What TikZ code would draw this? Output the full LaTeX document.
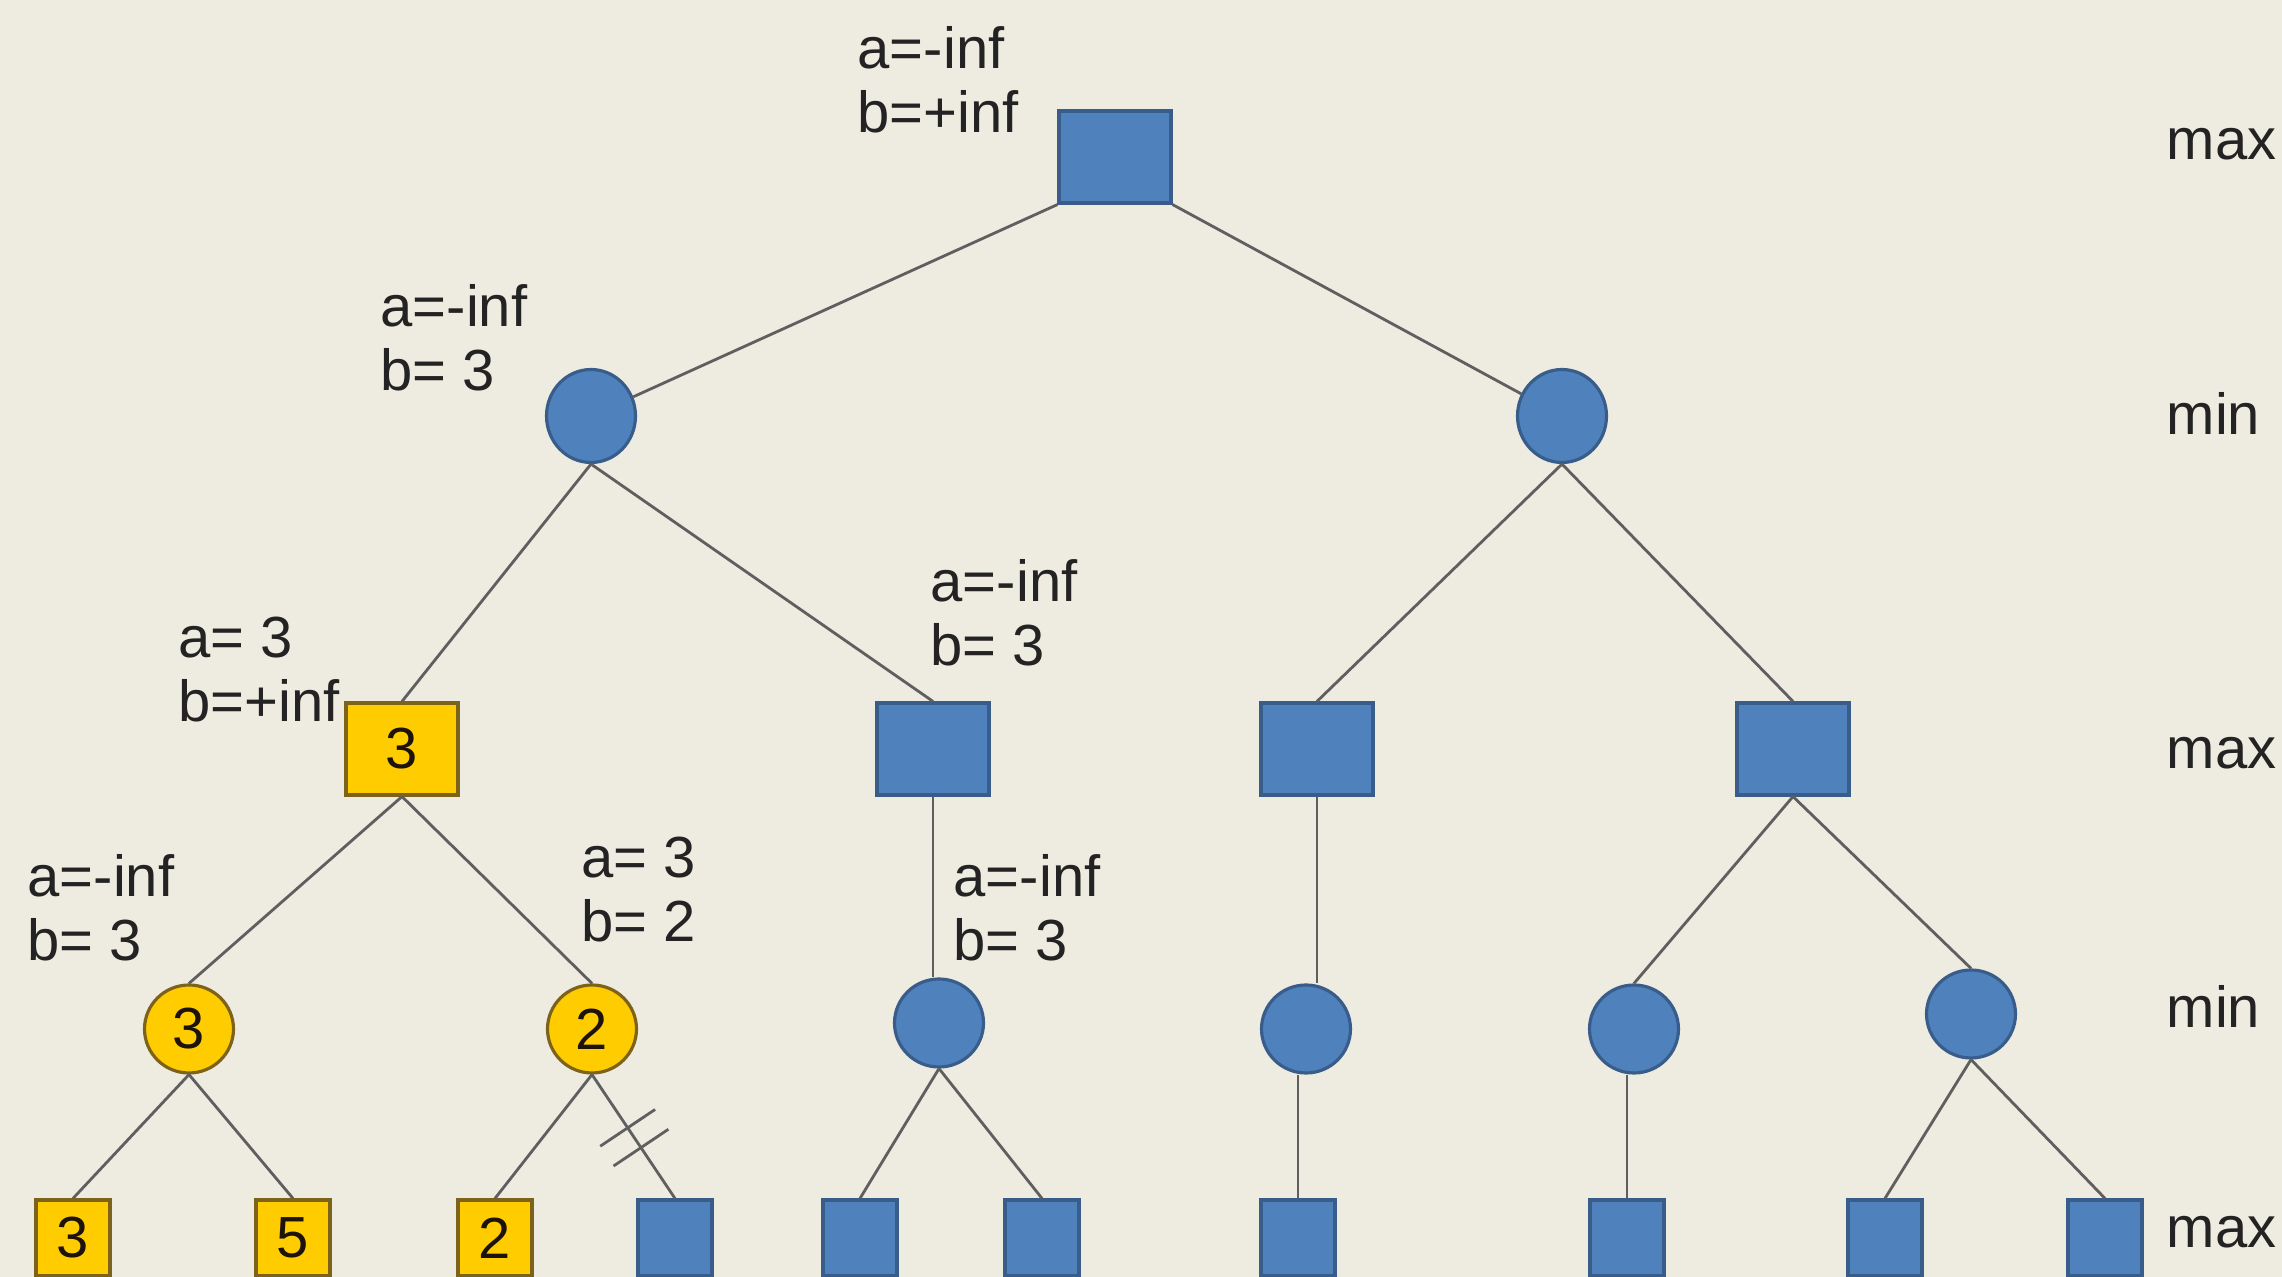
\documentclass[tikz,border=0pt]{standalone}
\usepackage{fontspec}
\setmainfont{Liberation Sans}
\usetikzlibrary{shapes.geometric,calc}
\definecolor{paper}{RGB}{238,235,224}
\definecolor{nodeblue}{RGB}{79,129,189}
\definecolor{blueedge}{RGB}{56,93,138}
\definecolor{gold}{RGB}{255,204,0}
\definecolor{goldedge}{RGB}{125,98,25}
\definecolor{linkgray}{RGB}{95,95,95}
\definecolor{ink}{RGB}{35,35,35}

\begin{document}
\begin{tikzpicture}[every node/.style={font=\fontsize{16.5}{18.4}\selectfont,text=ink},
  maxbox/.style={draw=blueedge,fill=nodeblue,line width=0.9pt,inner sep=0pt,minimum width=1.12cm,minimum height=0.92cm},
  minball/.style={ellipse,draw=blueedge,fill=nodeblue,line width=0.9pt,inner sep=0pt,minimum width=0.89cm,minimum height=0.88cm},
  leafbox/.style={maxbox,minimum width=0.74cm,minimum height=0.76cm},
  hit/.style={fill=gold,draw=goldedge,text=black!85!brown},
  bounds/.style={anchor=base west,align=left,inner sep=0pt},
  level/.style={anchor=base west,inner sep=0pt},
  link/.style={draw=linkgray,line width=0.8pt}]
  \fill[paper] (0,0) rectangle (22.82,-12.77);
  \useasboundingbox (0,0) rectangle (22.82,-12.77);
  % max / min levels
  \node[maxbox] (root) at (11.15,-1.57) {};
  \node[minball,minimum height=0.93cm] (n1) at (5.91,-4.16) {};
  \node[minball,minimum height=0.93cm] (n2) at (15.62,-4.16) {};
  \node[maxbox,hit] (m1) at (4.02,-7.49) {3};
  \node[maxbox] (m2) at (9.33,-7.49) {};
  \node[maxbox] (m3) at (13.17,-7.49) {};
  \node[maxbox] (m4) at (17.93,-7.49) {};
  \node[minball,hit] (c1) at (1.89,-10.29) {3};
  \node[minball,hit] (c2) at (5.92,-10.29) {2};
  \node[minball] (c3) at (9.39,-10.23) {};
  \node[minball] (c4) at (13.06,-10.29) {};
  \node[minball] (c5) at (16.34,-10.29) {};
  \node[minball] (c6) at (19.71,-10.14) {};
  % leaves
  \node[leafbox,hit] (l1) at (0.73,-12.38) {3};
  \node[leafbox,hit] (l2) at (2.93,-12.38) {5};
  \node[leafbox,hit] (l3) at (4.95,-12.38) {2};
  \foreach \x [count=\i from 4] in {6.75,8.60,10.42,12.98,16.27,18.85,21.05}
    \node[leafbox] (l\i) at (\x,-12.38) {};
  % links
  \draw[link] (root.south west) -- (n1);
  \draw[link] (root.south east) -- (n2);
  \draw[link] (n1.south) -- (m1.north);
  \draw[link] (n1.south) -- (m2.north);
  \draw[link] (n2.south) -- (m3.north);
  \draw[link] (n2.south) -- (m4.north);
  \draw[link] (m1.south) -- (c1.north);
  \draw[link] (m1.south) -- (c2.north);
  \draw[link] (m2.south) -- (c3.north -| m2.south);
  \draw[link] (m3.south) -- (c4.north -| m3.south);
  \draw[link] (m4.south) -- (c5.north);
  \draw[link] (m4.south) -- (c6.north);
  \draw[link] (c1.south) -- (l1.north);
  \draw[link] (c1.south) -- (l2.north);
  \draw[link] (c2.south) -- (l3.north);
  \draw[link] (c2.south) -- (l4.north) coordinate[pos=0.43] (cut1) coordinate[pos=0.59] (cut2);
  \draw[link] (c3.south) -- (l5.north);
  \draw[link] (c3.south) -- (l6.north);
  \draw[link] (c4.south -| l7.north) -- (l7.north);
  \draw[link] (c5.south -| l8.north) -- (l8.north);
  \draw[link] (c6.south) -- (l9.north);
  \draw[link] (c6.south) -- (l10.north);
  % pruned branch
  \draw[link] ($(cut1)!0.33cm!90:(l4.north)$) -- ($(cut1)!0.33cm!-90:(l4.north)$);
  \draw[link] ($(cut2)!0.33cm!90:(l4.north)$) -- ($(cut2)!0.33cm!-90:(l4.north)$);
  % alpha / beta
  \node[bounds] (t0) at (8.57,-1.33) {a=-inf\\b=+inf};
  \node[bounds] (t1) at (3.80,-3.91) {a=-inf\\b= 3};
  \node[bounds] (t2) at (1.78,-7.22) {a= 3\\b=+inf};
  \node[bounds] (t3) at (9.30,-6.66) {a=-inf\\b= 3};
  \node[bounds] (t4) at (0.27,-9.61) {a=-inf\\b= 3};
  \node[bounds] (t5) at (5.81,-9.42) {a= 3\\b= 2};
  \node[bounds] (t6) at (9.53,-9.61) {a=-inf\\b= 3};
  % player per level
  \node[level] (p0) at (21.66,-1.60) {max};
  \node[level] (p1) at (21.66,-4.35) {min};
  \node[level] (p2) at (21.66,-7.69) {max};
  \node[level] (p3) at (21.66,-10.28) {min};
  \node[level] (p4) at (21.66,-12.48) {max};
\end{tikzpicture}
\end{document}
